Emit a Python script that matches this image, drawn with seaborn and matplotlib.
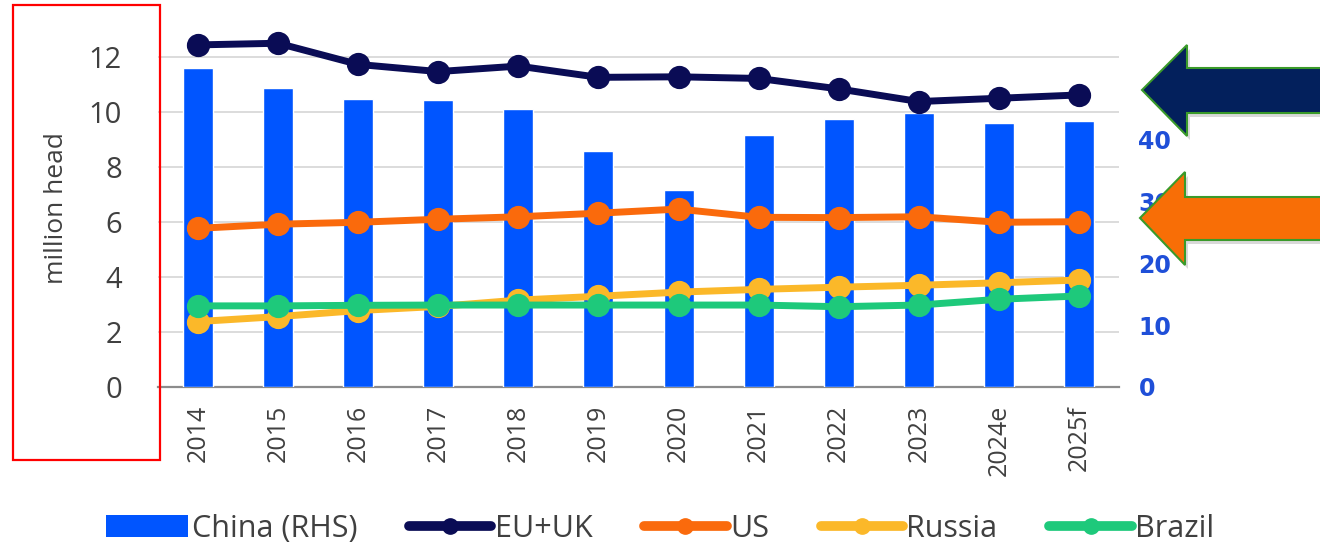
import numpy as np
import pandas as pd
import matplotlib
matplotlib.use("Agg")
import matplotlib.pyplot as plt
from matplotlib.patches import Polygon, Rectangle, Patch
from matplotlib.lines import Line2D
import seaborn as sns

# ---------------- data ----------------
years = ["2014", "2015", "2016", "2017", "2018", "2019", "2020",
         "2021", "2022", "2023", "2024e", "2025f"]
china = [51.5, 48.3, 46.5, 46.3, 44.9, 38.1, 31.8, 40.6, 43.2, 44.2, 42.6, 42.9]
eu_uk = [12.44, 12.50, 11.73, 11.47, 11.67, 11.26, 11.28, 11.22, 10.84, 10.38, 10.50, 10.62]
us = [5.77, 5.92, 5.99, 6.10, 6.19, 6.32, 6.47, 6.17, 6.16, 6.19, 5.99, 6.01]
russia = [2.38, 2.56, 2.78, 2.93, 3.16, 3.30, 3.45, 3.55, 3.63, 3.70, 3.79, 3.89]
brazil = [2.95, 2.95, 2.97, 2.98, 2.98, 2.98, 2.98, 2.98, 2.92, 2.98, 3.19, 3.31]
left_ticks = [0, 2, 4, 6, 8, 10, 12]
right_ticks = [0, 10, 20, 30, 40]
series_names = ["EU+UK", "US", "Russia", "Brazil"]
series_vals = [eu_uk, us, russia, brazil]

# ---------------- style ----------------
c_bar = "#0055FF"
colors = {"EU+UK": "#0a0c55", "US": "#fa6a0c", "Russia": "#fbb829", "Brazil": "#1ec97b"}
txt = "#404040"

sns.set_theme(style="white")
plt.rcParams["font.family"] = ["Open Sans", "DejaVu Sans"]

W, H = 1320, 548
fig = plt.figure(figsize=(W / 100, H / 100), dpi=100)

L, R, B, T = 158, 1119, 387, 29.5
rect = [L / W, (H - B) / H, (R - L) / W, (B - T) / H]
ax = fig.add_axes(rect)

# base axis: grid + left ticks
ax.set_xlim(-0.5, len(years) - 0.5)
ax.set_ylim(0, 13)
ax.set_yticks(left_ticks)
ax.yaxis.grid(True, color="#d9d9d9", linewidth=1.3)
ax.xaxis.grid(False)
ax.tick_params(axis="y", length=0, pad=26, labelsize=21, labelcolor=txt)
ax.set_ylabel("million head", fontsize=19, color=txt, labelpad=14)
for s in ["top", "right", "left"]:
    ax.spines[s].set_visible(False)
ax.spines["bottom"].set_color("#8c8c8c")
ax.spines["bottom"].set_linewidth(1.6)

# bars on RHS
axb = ax.twinx()
df_bar = pd.DataFrame({"year": years, "china": china})
sns.barplot(data=df_bar, x="year", y="china", order=years, color=c_bar,
            saturation=1, width=0.375, ax=axb)
axb.set_ylim(0, 57.7)
axb.set_yticks(right_ticks)
axb.tick_params(axis="y", length=0, pad=14, labelsize=17, labelcolor="#1f4fd8")
for lab in axb.get_yticklabels():
    lab.set_fontweight("bold")
    lab.set_family("DejaVu Sans")
axb.set_ylabel("")
axb.set_xlabel("")
for s in axb.spines.values():
    s.set_visible(False)
axb.grid(False)

# lines on top
axl = ax.twinx()
long = pd.DataFrame({
    "year": np.tile(years, len(series_names)),
    "series": np.repeat(series_names, len(years)),
    "value": np.concatenate([np.array(v) for v in series_vals]),
})
sns.pointplot(data=long, x="year", y="value", hue="series", order=years,
              hue_order=series_names, palette=colors, errorbar=None,
              markers="o", markersize=13, linewidth=5, ax=axl)
if axl.get_legend() is not None:
    axl.get_legend().remove()
axl.set_ylim(0, 13)
axl.set_yticks([])
axl.set_ylabel("")
axl.set_xlabel("")
for s in axl.spines.values():
    s.set_visible(False)
axl.grid(False)
axl.set_xlim(-0.5, len(years) - 0.5)
axb.set_xlim(-0.5, len(years) - 0.5)

# x tick labels
ax.set_xticks(range(len(years)))
ax.set_xticklabels(years, rotation=90)
ax.tick_params(axis="x", length=0, pad=13, labelsize=18, labelcolor=txt)
for a in (axb, axl):
    a.tick_params(axis="x", length=0, labelbottom=False)

# legend
handles = [Patch(facecolor=c_bar, edgecolor="none", label="China (RHS)")]
for n in series_names:
    handles.append(Line2D([0], [0], color=colors[n], lw=7, marker="o",
                          markersize=11, label=n))
fig.legend(handles=handles, loc="center", bbox_to_anchor=(0.5, 0.035),
           ncol=5, frameon=False, fontsize=22, labelcolor=txt,
           handlelength=2.7, handletextpad=0.1, columnspacing=1.7,
           handleheight=0.7)

# annotations: red box and arrows (figure pixel coords)
def px(x, y):
    return (x / W, (H - y) / H)

fig.patches.append(Rectangle(px(13, 460), (160 - 13) / W, (460 - 5) / H,
                             fill=False, edgecolor="#ff0000", linewidth=1.6,
                             transform=fig.transFigure, figure=fig))

def arrow(tip, head_x, head_top, head_bot, shaft_top, shaft_bot, color):
    pts = [tip, (head_x, head_top), (head_x, shaft_top), (1330, shaft_top),
           (1330, shaft_bot), (head_x, shaft_bot), (head_x, head_bot)]
    shadow = [px(x + 3, y + 4) for x, y in pts]
    fig.patches.append(Polygon(shadow, closed=True, facecolor="#000000",
                               alpha=0.15, edgecolor="none",
                               transform=fig.transFigure, figure=fig))
    fig.patches.append(Polygon([px(x, y) for x, y in pts], closed=True,
                               facecolor=color, edgecolor="#3a9a2a",
                               linewidth=1.5, transform=fig.transFigure,
                               figure=fig))

arrow((1142, 90), 1187, 45, 136, 68, 113, "#03205c")
arrow((1140, 218), 1185, 172, 265, 197, 240, "#f86e06")

fig.savefig("out.png", dpi=100)
